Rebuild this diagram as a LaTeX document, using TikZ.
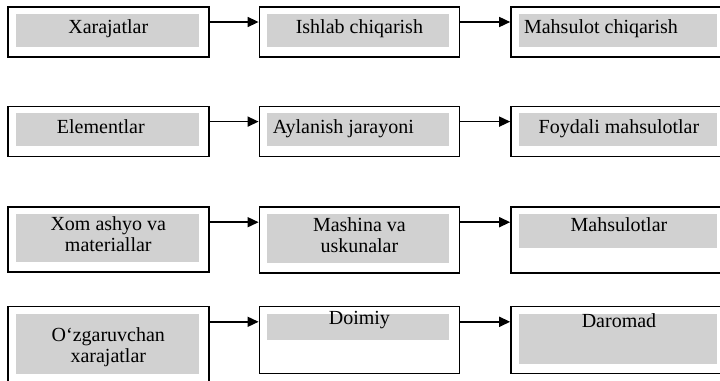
\documentclass[tikz,border=0pt]{standalone}
\usepackage{fontspec}
\setmainfont{Liberation Serif}
\usetikzlibrary{arrows.meta, positioning}
\definecolor{tusli}{gray}{0.82}

\begin{document}
\begin{tikzpicture}[>={Triangle[length=5.5pt,width=5pt]},
    pastki/.store in=\pastki, pastki=5pt,
    blok/.style={draw, line width=0.8pt, inner sep=0pt, align=center, text depth=5.3pt,
      font=\fontsize{10}{10.5}\selectfont,
      path picture={\fill[tusli] ([shift={(4pt,-3.5pt)}]path picture bounding box.north west)
        rectangle ([shift={(-5pt,\pastki)}]path picture bounding box.south east);}},
    chap/.style={blok, minimum width=100.5pt},
    orta/.style={blok, minimum width=100pt},
    ong/.style={blok, minimum width=108pt},
    strelka/.style={->, line width=0.75pt}]
  \useasboundingbox (0,0) rectangle (360pt,-190.5pt);

  % 1-qator
  \node[chap, minimum height=25pt, anchor=north west] (xarajat) at (3.5pt,-3pt) {Xarajatlar};
  \node[orta, minimum height=25pt, right=24.5pt of xarajat.north east, anchor=north west] (ishlab) {Ishlab chiqarish};
  \node[ong, minimum height=25pt, right=25pt of ishlab.north east, anchor=north west] (mahchiq) {Mahsulot chiqarish\hspace*{18pt}};

  % 2-qator
  \node[chap, minimum height=25pt, below=24pt of xarajat] (element) {Elementlar\hspace*{7.5pt}};
  \node[orta, minimum height=25pt, right=24.5pt of element.north east, anchor=north west] (aylanish) {Aylanish jarayoni\hspace*{16pt}};
  \node[ong, minimum height=25pt, right=25pt of aylanish.north east, anchor=north west] (foydali) {Foydali mahsulotlar};

  % 3-qator
  \node[chap, minimum height=32.5pt, below=24.5pt of element] (xomashyo) {Xom ashyo va\\materiallar};
  \node[orta, minimum height=33pt, right=24.5pt of xomashyo.north east, anchor=north west] (mashina) {Mashina va\\uskunalar};
  \node[ong, minimum height=33pt, pastki=12.5pt, right=25pt of mashina.north east, anchor=north west] (mahsulot) {Mahsulotlar\\\mbox{}};

  % 4-qator
  \node[chap, minimum height=38.8pt, text depth=-2.5pt, below=16.5pt of xomashyo] (ozgar) {O‘zgaruvchan\\xarajatlar};
  \node[orta, minimum height=33.5pt, text depth=11.3pt, pastki=17pt, right=24.5pt of ozgar.north east, anchor=north west] (doimiy) {Doimiy\\\mbox{}};
  \node[ong, minimum height=33.5pt, text depth=9.3pt, right=25pt of doimiy.north east, anchor=north west] (daromad) {Daromad\\\mbox{}};

  \foreach \a/\b in {xarajat/ishlab, ishlab/mahchiq, element/aylanish, aylanish/foydali,
                     xomashyo/mashina, mashina/mahsulot, ozgar/doimiy, doimiy/daromad}
    \draw[strelka] ([yshift=-8pt]\a.north east) -- ([yshift=-8pt]\b.north west);
\end{tikzpicture}
\end{document}
